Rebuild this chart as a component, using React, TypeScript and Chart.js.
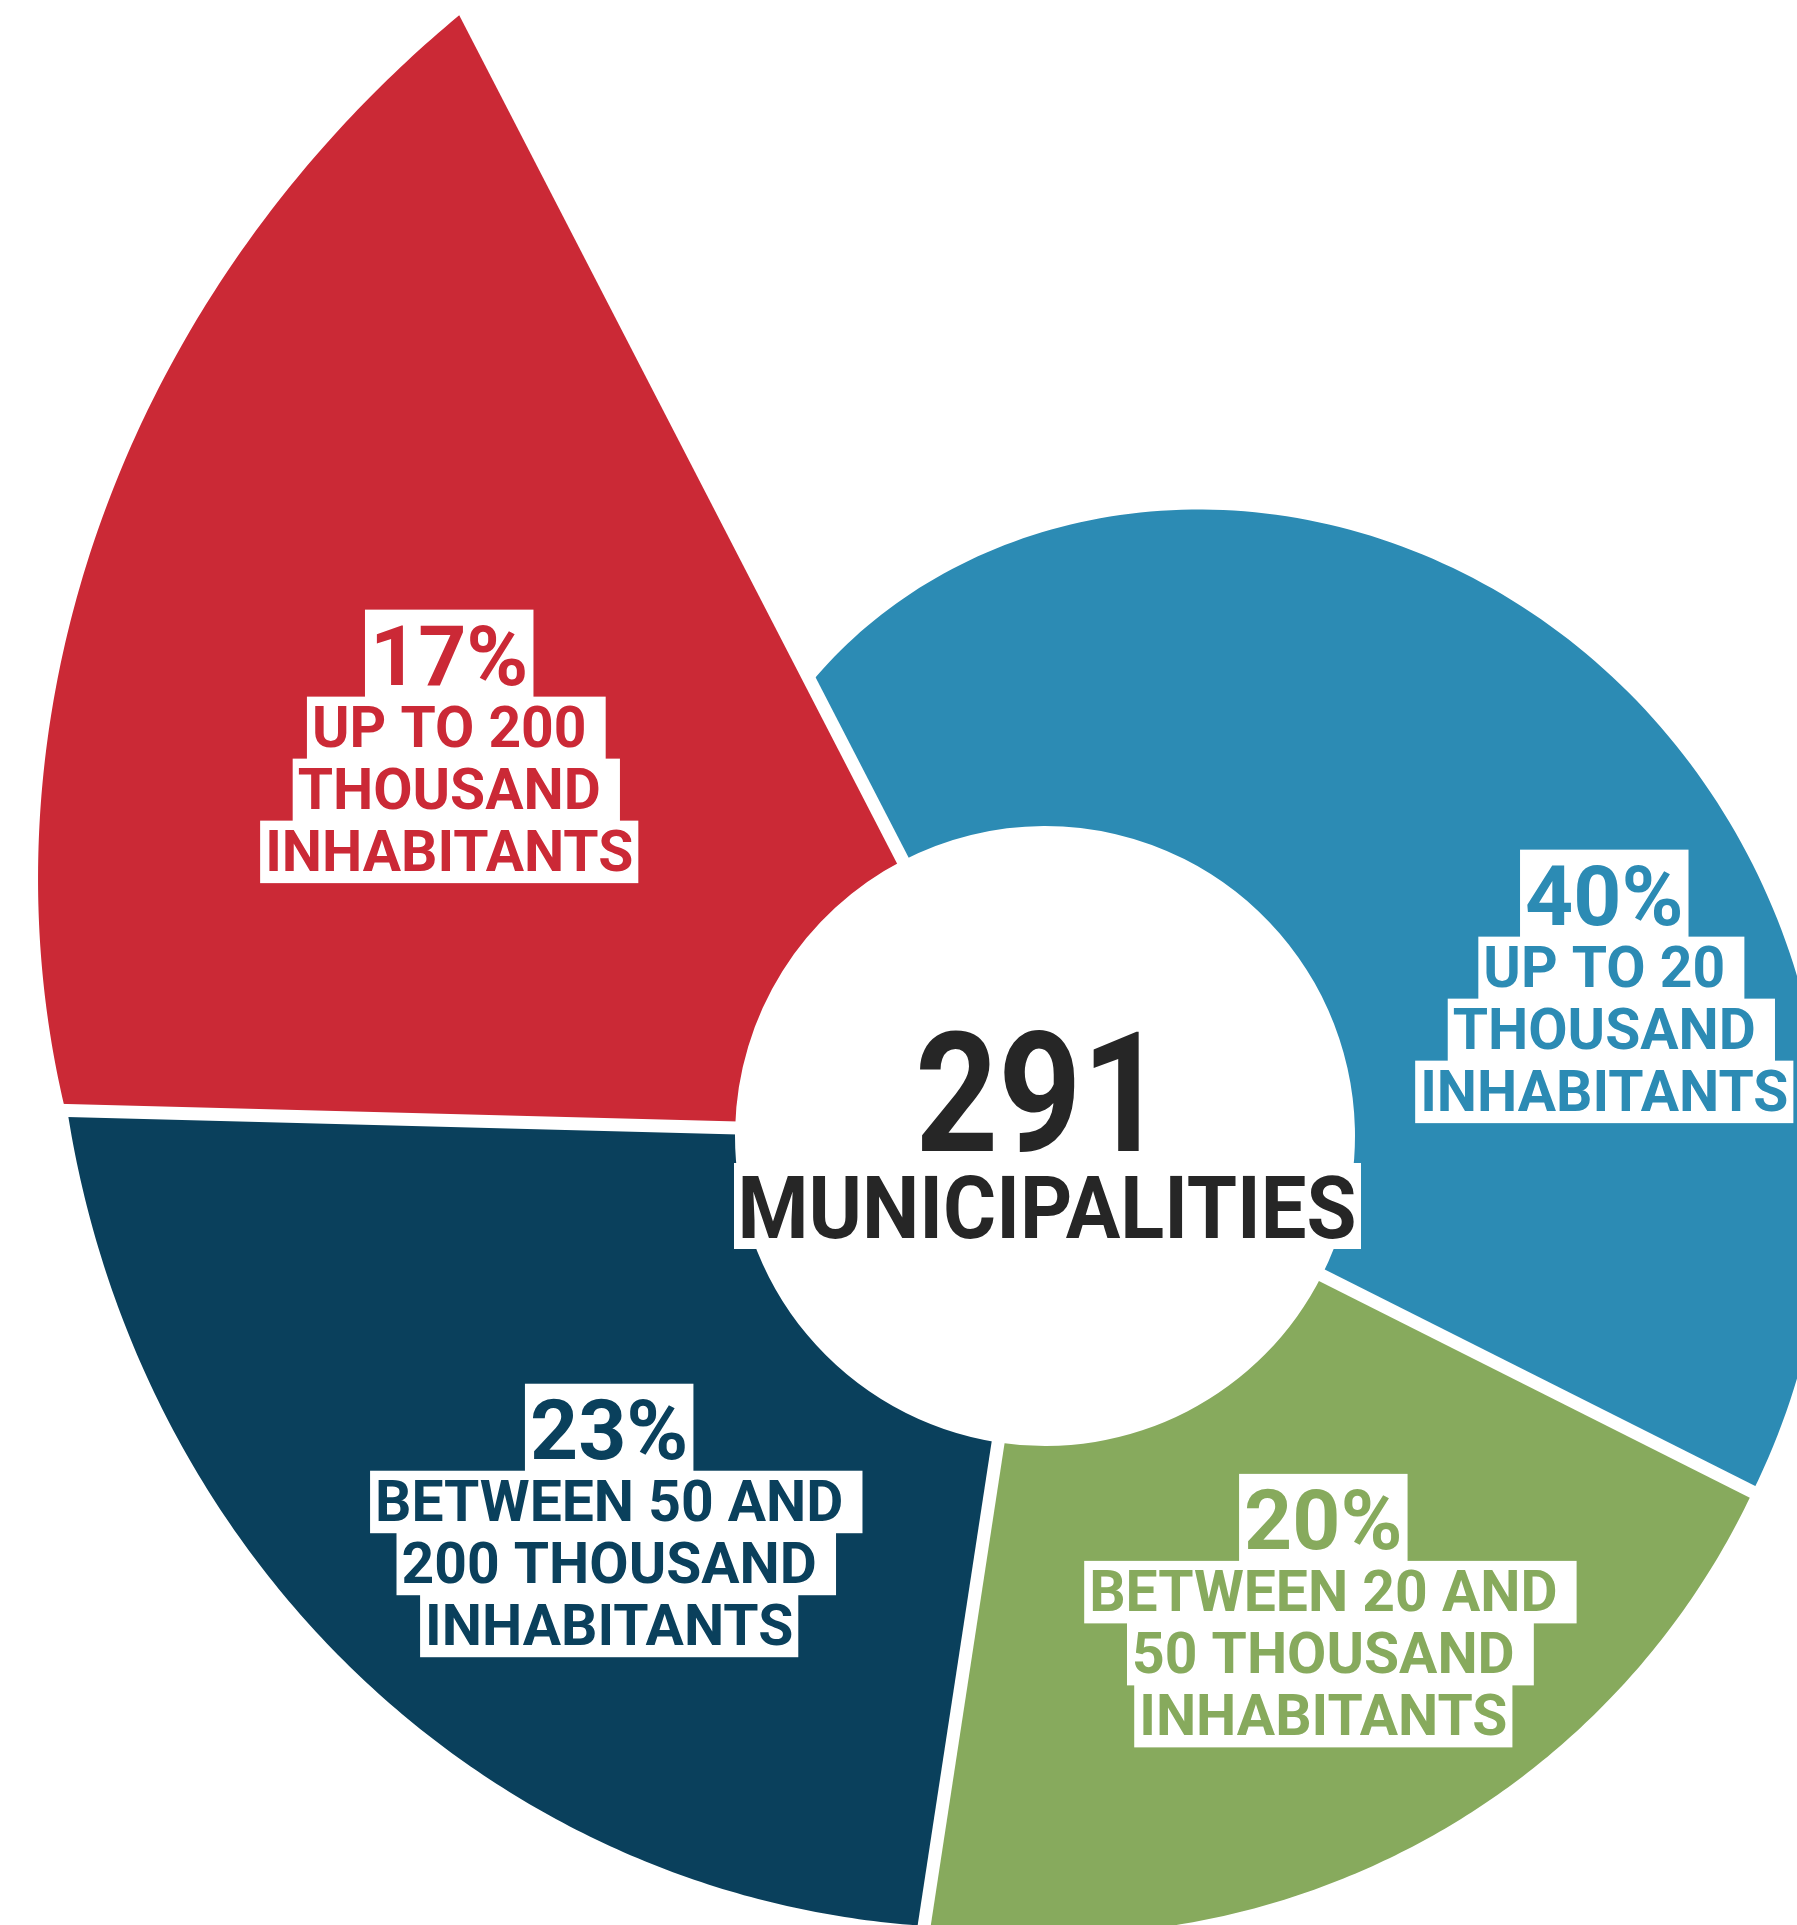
import React, { useEffect, useRef } from 'react';
import { Chart, registerables } from 'chart.js';

Chart.register(...registerables);

// ---------- data ----------
const categories = [
  'UP TO 20 THOUSAND INHABITANTS',
  'BETWEEN 20 AND 50 THOUSAND INHABITANTS',
  'BETWEEN 50 AND 200 THOUSAND INHABITANTS',
  'UP TO 200 THOUSAND INHABITANTS',
];
const shares = [40, 20, 23, 17];
const labelLines = [
  ['UP TO 20 ', 'THOUSAND ', 'INHABITANTS'],
  ['BETWEEN 20 AND ', '50 THOUSAND ', 'INHABITANTS'],
  ['BETWEEN 50 AND ', '200 THOUSAND ', 'INHABITANTS'],
  ['UP TO 200 ', 'THOUSAND ', 'INHABITANTS'],
];
const totalCount = 291;
const totalLabel = 'MUNICIPALITIES';

// ---------- style / layout ----------
const colors = ['#2C8BB4', '#87AA5D', '#0A405C', '#CB2936'];
const TEXT_DARK = '#262626';
const FONT = 'Roboto, "DejaVu Sans", sans-serif';
const BASE = 700; // reference radius the sizes below are expressed against
// outer edge radius of each slice at its start, middle and end (nautilus shape)
const outerProfile = [
  [510, 718, 792],
  [792, 800, 797],
  [799, 869, 978],
  [980, 1122, 1266],
];
// label block centres: angle clockwise from 12 o'clock (deg), distance from centre
const labelAnchor = [
  { a: 75, r: 579 },
  { a: 149.6, r: 550 },
  { a: 228.6, r: 581 },
  { a: 303.2, r: 712 },
];
const GAP = 13;

function drawLabelBlock(ctx: CanvasRenderingContext2D, cx: number, cy: number, pct: string, lines: string[], color: string, k: number) {
  const pctBoxH = 87 * k;
  const lineBoxH = 62 * k;
  const pad = 5 * k;
  const total = pctBoxH + lines.length * lineBoxH;
  let top = cy - total / 2;
  const rows = [
    { text: pct, size: 84 * k, h: pctBoxH, base: 75 * k },
    ...lines.map((t) => ({ text: t, size: 57 * k, h: lineBoxH, base: 50 * k })),
  ];
  ctx.textAlign = 'left';
  ctx.textBaseline = 'alphabetic';
  rows.forEach((row) => {
    ctx.font = `bold ${row.size}px ${FONT}`;
    const trimmed = row.text.trimEnd();
    const wT = ctx.measureText(trimmed).width;
    const wF = ctx.measureText(row.text).width;
    const x0 = cx - wT / 2;
    ctx.fillStyle = '#ffffff';
    ctx.fillRect(x0 - pad, top, wF + 2 * pad, row.h + 0.5);
    ctx.fillStyle = color;
    ctx.fillText(trimmed, x0, top + row.base);
    top += row.h;
  });
}

const nautilusPlugin = {
  id: 'nautilus',
  beforeDatasetDraw() {
    return false;
  },
  afterDatasetsDraw(chart: any) {
    const ctx: CanvasRenderingContext2D = chart.ctx;
    const meta = chart.getDatasetMeta(0);
    const els = meta.data;
    if (!els.length) return;
    ctx.save();
    let cx = 0, cy = 0, k = 1;
    els.forEach((el: any, i: number) => {
      const p = el.getProps(['x', 'y', 'startAngle', 'endAngle', 'innerRadius', 'outerRadius'], true);
      cx = p.x; cy = p.y; k = p.outerRadius / BASE;
      const [r0, r1, r2] = outerProfile[i].map((v) => v * k);
      const N = 160;
      ctx.beginPath();
      for (let j = 0; j <= N; j++) {
        const t = j / N;
        const ang = p.startAngle + (p.endAngle - p.startAngle) * t;
        const r = r0 * (2 * t * t - 3 * t + 1) + r1 * (4 * t - 4 * t * t) + r2 * (2 * t * t - t);
        const px = p.x + r * Math.cos(ang);
        const py = p.y + r * Math.sin(ang);
        if (j === 0) ctx.moveTo(px, py);
        else ctx.lineTo(px, py);
      }
      ctx.arc(p.x, p.y, p.innerRadius, p.endAngle, p.startAngle, true);
      ctx.closePath();
      ctx.fillStyle = el.options.backgroundColor;
      ctx.fill();
    });
    // white separators between slices
    ctx.strokeStyle = '#ffffff';
    ctx.lineWidth = GAP * k;
    ctx.lineCap = 'butt';
    els.forEach((el: any) => {
      const p = el.getProps(['x', 'y', 'startAngle'], true);
      ctx.beginPath();
      ctx.moveTo(p.x, p.y);
      ctx.lineTo(p.x + 1600 * k * Math.cos(p.startAngle), p.y + 1600 * k * Math.sin(p.startAngle));
      ctx.stroke();
    });
    // slice labels
    els.forEach((el: any, i: number) => {
      const an = ((labelAnchor[i].a - 90) * Math.PI) / 180;
      const lx = cx + labelAnchor[i].r * k * Math.cos(an);
      const ly = cy + labelAnchor[i].r * k * Math.sin(an);
      drawLabelBlock(ctx, lx, ly, `${shares[i]}%`, labelLines[i], colors[i], k);
    });
    // centre total
    ctx.textAlign = 'center';
    ctx.textBaseline = 'alphabetic';
    ctx.fillStyle = TEXT_DARK;
    ctx.font = `bold ${167 * k}px ${FONT}`;
    ctx.fillText(String(totalCount), cx - 5 * k, cy + 15 * k, 250 * k);
    ctx.fillStyle = '#ffffff';
    ctx.fillRect(cx - 311 * k, cy + 27 * k, 627 * k, 86 * k);
    ctx.fillStyle = TEXT_DARK;
    ctx.font = `bold ${87 * k}px ${FONT}`;
    ctx.fillText(totalLabel, cx + 2 * k, cy + 102 * k, 619 * k);
    ctx.restore();
  },
};

export default function App() {
  const canvasRef = useRef<HTMLCanvasElement | null>(null);

  useEffect(() => {
    document.body.style.margin = '0';
    document.body.style.overflow = 'hidden';
    const canvas = canvasRef.current;
    if (!canvas) return;
    const chart = new Chart(canvas, {
      type: 'doughnut',
      data: {
        labels: categories,
        datasets: [
          {
            data: shares,
            backgroundColor: colors,
            borderWidth: 0,
          },
        ],
      },
      options: {
        responsive: false,
        animation: false,
        devicePixelRatio: 1,
        rotation: -27.3,
        cutout: 310,
        layout: { padding: { left: 345, right: 52, top: 436, bottom: 89 } },
        events: [],
        plugins: {
          legend: { display: false },
          tooltip: { enabled: false },
        },
      },
      plugins: [nautilusPlugin],
    } as any);
    return () => chart.destroy();
  }, []);

  return (
    <div style={{ position: 'absolute', left: 0, top: 0, width: 1797, height: 1925, background: '#ffffff' }}>
      <canvas ref={canvasRef} width={1797} height={1925} style={{ display: 'block', width: 1797, height: 1925 }} />
    </div>
  );
}
